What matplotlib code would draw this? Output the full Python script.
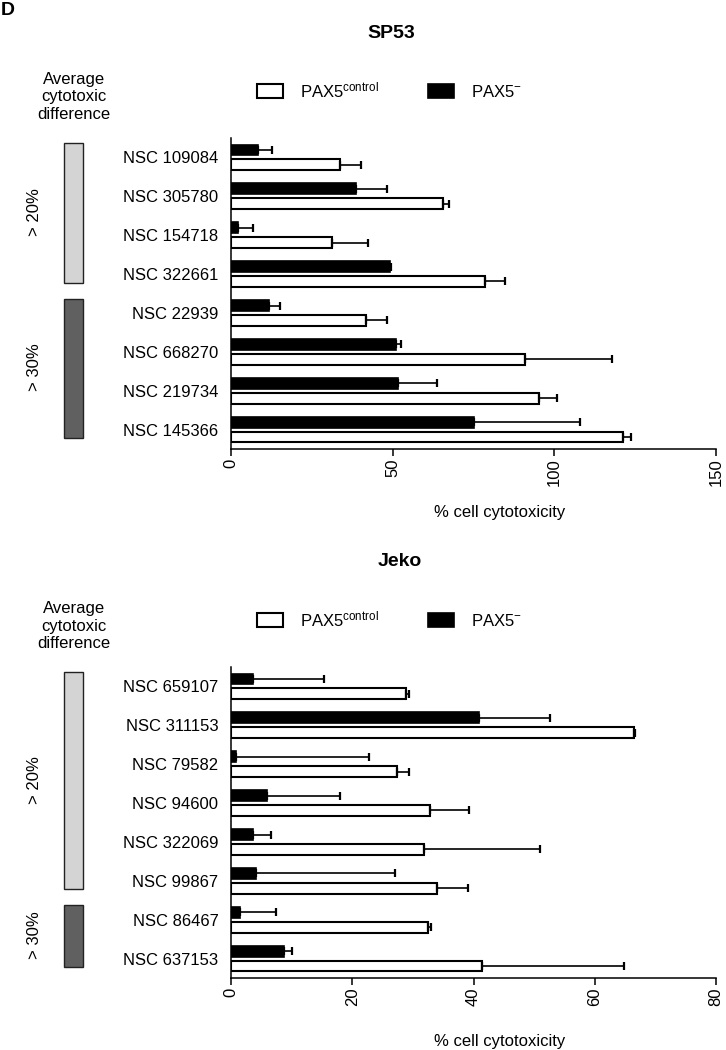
import numpy as np
import matplotlib
matplotlib.use('Agg')
import matplotlib.pyplot as plt
from matplotlib.patches import Rectangle

plt.rcParams['font.family'] = ['Liberation Sans', 'DejaVu Sans']
plt.rcParams['mathtext.fontset'] = 'custom'
plt.rcParams['mathtext.rm'] = 'Liberation Sans'
plt.rcParams['mathtext.it'] = 'Liberation Sans'

# SP53 panel
sp53_drugs = ['NSC 109084', 'NSC 305780', 'NSC 154718', 'NSC 322661',
              'NSC 22939', 'NSC 668270', 'NSC 219734', 'NSC 145366']
sp53_ctrl = [33.8, 65.5, 31.3, 78.6, 41.8, 90.9, 95.3, 121.1]
sp53_ctrl_err = [6.5, 1.9, 11.0, 6.0, 6.4, 26.9, 5.5, 2.7]
sp53_ko = [8.5, 38.8, 2.2, 49.1, 11.7, 50.9, 51.8, 75.2]
sp53_ko_err = [4.2, 9.4, 4.6, 0.3, 3.6, 1.8, 11.9, 32.8]
sp53_groups = [('> 20%', 0, 3), ('> 30%', 4, 7)]

# Jeko panel
jeko_drugs = ['NSC 659107', 'NSC 311153', 'NSC 79582', 'NSC 94600',
              'NSC 322069', 'NSC 99867', 'NSC 86467', 'NSC 637153']
jeko_ctrl = [28.9, 66.4, 27.4, 32.9, 31.9, 33.9, 32.5, 41.4]
jeko_ctrl_err = [0.5, 0.3, 1.9, 6.4, 19.0, 5.2, 0.5, 23.5]
jeko_ko = [3.7, 40.9, 0.9, 5.9, 3.6, 4.1, 1.5, 8.8]
jeko_ko_err = [11.7, 11.8, 21.8, 12.0, 3.0, 23.0, 6.0, 1.3]
jeko_groups = [('> 20%', 0, 5), ('> 30%', 6, 7)]

group_colors = {'> 20%': '#d4d4d4', '> 30%': '#606060'}


def draw_panel(ax, drugs, ctrl, ctrl_err, ko, ko_err, xmax, step, groups):
    y = np.arange(len(drugs))
    h = 0.28
    off = 0.19
    ekw = dict(elinewidth=1.2, capsize=2.6, capthick=1.6, ecolor='black')
    ko_bars = ax.barh(y - off, ko, height=h, color='black', edgecolor='black',
                      linewidth=1.2, xerr=[np.zeros(len(ko)), ko_err],
                      error_kw=ekw)
    ctrl_bars = ax.barh(y + off, ctrl, height=h, color='white', edgecolor='black',
                        linewidth=1.5, xerr=[np.zeros(len(ctrl)), ctrl_err],
                        error_kw=ekw)
    ax.set_ylim(len(drugs) - 0.5, -0.5)
    ax.set_xlim(0, xmax)
    ax.set_yticks(y)
    ax.set_yticklabels(drugs, fontsize=12)
    ax.tick_params(axis='y', length=0, pad=9)
    ax.set_xticks(np.arange(0, xmax + 1, step))
    ax.tick_params(axis='x', length=5, width=1.1, labelsize=12,
                   labelrotation=90, pad=2)
    for s in ['top', 'right']:
        ax.spines[s].set_visible(False)
    for s in ['left', 'bottom']:
        ax.spines[s].set_linewidth(1.1)
    ax.set_xlabel('% cell cytotoxicity', fontsize=12)
    ax.xaxis.set_label_coords(0.553, -0.203)
    ax.xaxis.label.set_va('center')

    tr = ax.get_yaxis_transform()
    for label, first, last in groups:
        ax.add_patch(Rectangle((-0.344, first - 0.37), 0.039,
                               (last + 0.22) - (first - 0.37),
                               transform=tr, facecolor=group_colors[label],
                               edgecolor='#222222', linewidth=1.0,
                               clip_on=False))
        ax.text(-0.406, (first + last) / 2 - 0.1, label, transform=tr,
                rotation=90, ha='center', va='center', fontsize=12)
    return ctrl_bars, ko_bars


fig = plt.figure(figsize=(7.26, 10.5), dpi=100)
W, H = 726.0, 1050.0

panels = [
    ('SP53', 0, 391, sp53_drugs, sp53_ctrl, sp53_ctrl_err, sp53_ko, sp53_ko_err,
     150, 50, sp53_groups),
    ('Jeko', 529, 400, jeko_drugs, jeko_ctrl, jeko_ctrl_err, jeko_ko, jeko_ko_err,
     80, 20, jeko_groups),
]

for title, dy, tx, drugs, ctrl, ctrl_err, ko, ko_err, xmax, step, groups in panels:
    ax = fig.add_axes([231 / W, 1 - (449 + dy) / H, 485 / W, 311 / H])
    ctrl_bars, ko_bars = draw_panel(ax, drugs, ctrl, ctrl_err, ko, ko_err,
                                    xmax, step, groups)
    fig.text(tx / W, 1 - (33 + dy) / H, title, ha='center', va='center',
             fontsize=14, fontweight='bold')
    fig.text(74 / W, 1 - (97 + dy) / H, 'Average\ncytotoxic\ndifference',
             ha='center', va='center', fontsize=12, linespacing=1.2)
    ax.legend([ctrl_bars, ko_bars],
              [r'PAX5$^{\mathrm{control}}$', r'PAX5$^{\mathrm{-}}$'],
              loc='center left', bbox_to_anchor=(257 / W, 1 - (90 + dy) / H),
              bbox_transform=fig.transFigure, ncol=2, frameon=False,
              fontsize=12, handlelength=1.55, handleheight=0.9,
              handletextpad=1.0, columnspacing=3.0, borderpad=0,
              borderaxespad=0)

fig.text(1 / W, 1 - 2 / H, 'D', ha='left', va='top', fontsize=14,
         fontweight='bold')

plt.savefig('out.png', dpi=100)
